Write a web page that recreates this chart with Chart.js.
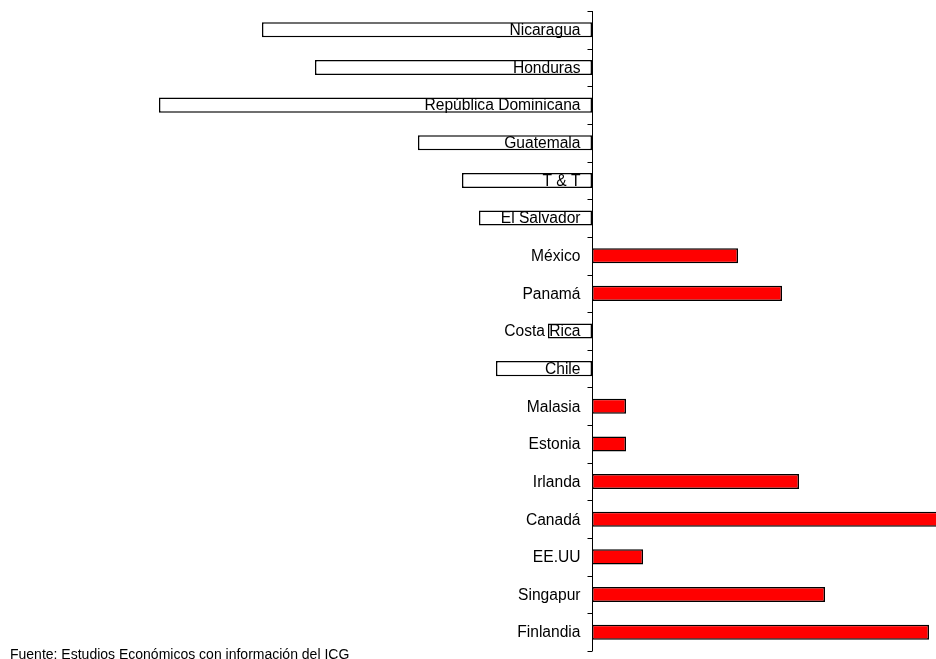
<!DOCTYPE html>
<html>
<head>
<meta charset="utf-8">
<script src="https://cdn.jsdelivr.net/npm/chart.js@4.4.1/dist/chart.umd.min.js"></script>
<style>
  html, body { margin: 0; padding: 0; background: #fff; }
  #wrap { position: relative; width: 936px; height: 659px; }
  #note { position: absolute; left: 10px; top: 646px; font: 14px "Liberation Sans", Arial, sans-serif; color: #000; white-space: nowrap; }
</style>
</head>
<body>
<div id="wrap">
  <canvas id="chart" width="936" height="659"></canvas>
  <div id="note">Fuente: Estudios Económicos con información del ICG</div>
</div>
<script>
const countries = [
  "Nicaragua", "Honduras", "República Dominicana", "Guatemala", "T & T", "El Salvador",
  "México", "Panamá", "Costa Rica", "Chile", "Malasia", "Estonia", "Irlanda",
  "Canadá", "EE.UU", "Singapur", "Finlandia"
];
const values = [
  -33.0, -27.7, -43.3, -17.4, -13.0, -11.3,
  14.6, 19.0, -4.4, -9.6, 3.4, 3.4, 20.7,
  36.0, 5.1, 23.3, 33.7
];

// axis line, small ticks between categories and labels next to the zero line
const axisLabels = {
  id: "axisLabels",
  afterDatasetsDraw(chart) {
    const { ctx, scales: { x, y } } = chart;
    const x0 = Math.round(x.getPixelForValue(0)) + 0.5;
    const step = y.getPixelForValue(1) - y.getPixelForValue(0);
    ctx.save();
    ctx.strokeStyle = "#000";
    ctx.lineWidth = 1;
    ctx.beginPath();
    ctx.moveTo(x0, y.top);
    ctx.lineTo(x0, y.bottom);
    for (let i = 0; i <= countries.length; i++) {
      const yy = Math.round(y.getPixelForValue(i) - step / 2) + 0.5;
      ctx.moveTo(x0 - 5, yy);
      ctx.lineTo(x0, yy);
    }
    ctx.stroke();
    ctx.fillStyle = "#000";
    ctx.font = '15.6px "Liberation Sans", Arial, sans-serif';
    ctx.textAlign = "right";
    ctx.textBaseline = "middle";
    countries.forEach((c, i) => {
      ctx.fillText(c, x0 - 12, y.getPixelForValue(i) + 1);
    });
    ctx.restore();
  }
};

new Chart(document.getElementById("chart"), {
  type: "bar",
  data: {
    labels: countries,
    datasets: [{
      data: values,
      backgroundColor: (c) => (c.raw < 0 ? "#ffffff" : "#ff0000"),
      borderColor: "#000",
      borderWidth: 1.5,
      borderSkipped: false,
      barPercentage: 0.4,
      categoryPercentage: 1
    }]
  },
  options: {
    indexAxis: "y",
    responsive: false,
    animation: false,
    layout: { padding: { top: 11, bottom: 8, left: 0, right: 0 } },
    plugins: { legend: { display: false }, tooltip: { enabled: false } },
    scales: {
      x: { display: false, min: -59.2, max: 34.4, grid: { display: false } },
      y: { display: false, grid: { display: false } }
    }
  },
  plugins: [axisLabels]
});
</script>
</body>
</html>
